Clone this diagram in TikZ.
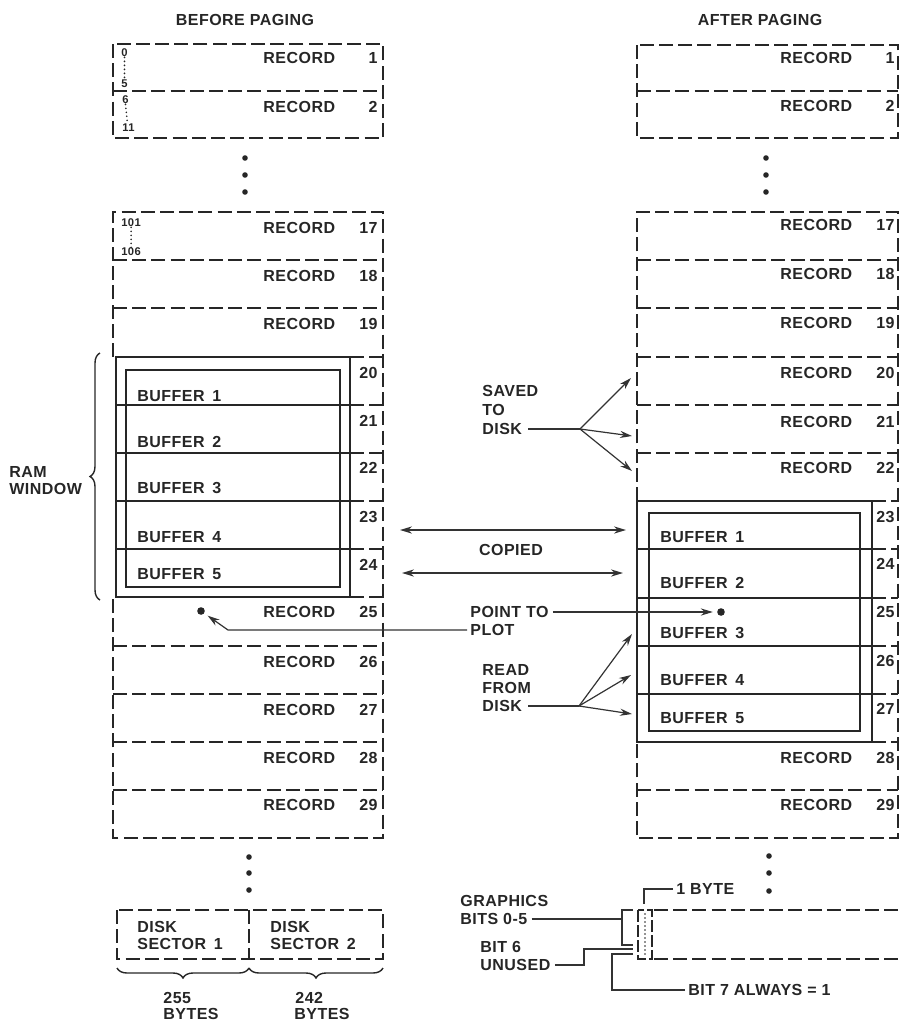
\documentclass[tikz,border=0pt]{standalone}
\usepackage{fontspec}
\setmainfont{Liberation Sans}[LetterSpace=3]
\usepackage{tikz}
\usetikzlibrary{arrows.meta, positioning, decorations.pathreplacing, calc}

\begin{document}
\begin{tikzpicture}[
    x=0.5pt, y=-0.5pt,
    rec/.style={draw=black!85, line width=0.8pt, dash pattern=on 7pt off 2.6pt},
    win/.style={draw=black!85, line width=1pt},
    txt/.style={font=\fontsize{8}{9.6}\selectfont\bfseries, inner sep=0pt, text=black!85},
    smalltxt/.style={font=\fontsize{5.6}{6}\selectfont\bfseries, inner sep=0pt, text=black!85},
    conn/.style={-{Stealth[length=6pt, width=3.6pt]}, line width=0.6pt, draw=black!80},
    twoway/.style={{Stealth[length=6pt, width=3.6pt]}-{Stealth[length=6pt, width=3.6pt]}, line width=0.7pt, draw=black!80},
    lead/.style={line width=0.6pt, draw=black!80},
    bullet/.style={circle, fill=black!85, inner sep=0pt, minimum size=2.8pt},
    dotline/.style={line width=0.9pt, dash pattern=on 0pt off 2pt, line cap=round, draw=black!85},
    bracegroup/.style={decorate, decoration={brace, amplitude=5pt}, line width=0.7pt, draw=black!85},
]
    \useasboundingbox (0,0) rectangle (900,1024);

    % BEFORE PAGING column
    \node[txt] (tl) at (245,20) {BEFORE PAGING};
    \draw[rec] (113,44) rectangle (383,138);
    \draw[rec] (113,91) -- (383,91);
    \node[txt, anchor=west] (l1) at (263,58) {RECORD};
    \node[txt, anchor=east] (l1n) at (378,58) {1};
    \node[txt, anchor=west] (l2) at (263,107) {RECORD};
    \node[txt, anchor=east] (l2n) at (378,107) {2};
    \node[smalltxt, anchor=west] (a0) at (121,53) {0};
    \node[smalltxt, anchor=west] (a5) at (121,84) {5};
    \node[smalltxt, anchor=west] (a6) at (122,100) {6};
    \node[smalltxt, anchor=west] (a11) at (122,128) {11};
    \draw[dotline] (a0.south) -- (a5.north);
    \draw[dotline] (a6.south) -- ([xshift=-0.5pt]a11.north);

    \node[bullet] (ld1) at (245,158) {};
    \node[bullet] (ld2) at (245,175) {};
    \node[bullet] (ld3) at (245,192) {};

    \draw[rec] (113,357) -- (113,212) -- (383,212) -- (383,838) -- (113,838) -- (113,597);
    \draw[rec] (113,260) -- (383,260);
    \draw[rec] (113,308) -- (383,308);
    \draw[rec] (350,357) -- (383,357);
    \draw[rec] (350,405) -- (383,405);
    \draw[rec] (350,453) -- (383,453);
    \draw[rec] (350,501) -- (383,501);
    \draw[rec] (350,549) -- (383,549);
    \draw[rec] (350,597) -- (383,597);
    \draw[rec] (113,646) -- (383,646);
    \draw[rec] (113,694) -- (383,694);
    \draw[rec] (113,742) -- (383,742);
    \draw[rec] (113,790) -- (383,790);

    \node[smalltxt, anchor=west] (a101) at (121,223) {101};
    \node[smalltxt, anchor=west] (a106) at (121,252) {106};
    \draw[dotline] (a101.south) -- (a106.north);
    \node[txt, anchor=west] (l17) at (263,228) {RECORD};
    \node[txt, anchor=east] (l17n) at (378,228) {17};
    \node[txt, anchor=west] (l18) at (263,276) {RECORD};
    \node[txt, anchor=east] (l18n) at (378,276) {18};
    \node[txt, anchor=west] (l19) at (263,324) {RECORD};
    \node[txt, anchor=east] (l19n) at (378,324) {19};
    \node[txt, anchor=east] (l20n) at (378,373) {20};
    \node[txt, anchor=east] (l21n) at (378,421) {21};
    \node[txt, anchor=east] (l22n) at (378,468) {22};
    \node[txt, anchor=east] (l23n) at (378,517) {23};
    \node[txt, anchor=east] (l24n) at (378,565) {24};
    \node[txt, anchor=west] (l25) at (263,612) {RECORD};
    \node[txt, anchor=east] (l25n) at (378,612) {25};
    \node[txt, anchor=west] (l26) at (263,662) {RECORD};
    \node[txt, anchor=east] (l26n) at (378,662) {26};
    \node[txt, anchor=west] (l27) at (263,710) {RECORD};
    \node[txt, anchor=east] (l27n) at (378,710) {27};
    \node[txt, anchor=west] (l28) at (263,758) {RECORD};
    \node[txt, anchor=east] (l28n) at (378,758) {28};
    \node[txt, anchor=west] (l29) at (263,805) {RECORD};
    \node[txt, anchor=east] (l29n) at (378,805) {29};

    % RAM window, left
    \draw[win] (116,357) rectangle (350,597);
    \draw[win] (126,370) rectangle (340,587);
    \draw[win] (116,405) -- (350,405);
    \draw[win] (116,453) -- (350,453);
    \draw[win] (116,501) -- (350,501);
    \draw[win] (116,549) -- (350,549);
    \node[txt, anchor=west] (lb1) at (137,396) {BUFFER\, 1};
    \node[txt, anchor=west] (lb2) at (137,442) {BUFFER\, 2};
    \node[txt, anchor=west] (lb3) at (137,488) {BUFFER\, 3};
    \node[txt, anchor=west] (lb4) at (137,537) {BUFFER\, 4};
    \node[txt, anchor=west] (lb5) at (137,574) {BUFFER\, 5};

    \draw[bracegroup] (100,600) -- (100,353);
    \node[txt, anchor=west] (rw1) at (9,472) {RAM};
    \node[txt, anchor=west] (rw2) at (9,489) {WINDOW};

    \node[bullet] (ld4) at (249,857) {};
    \node[bullet] (ld5) at (249,873) {};
    \node[bullet] (ld6) at (249,890) {};

    % disk sectors
    \draw[rec] (117,910) rectangle (383,959);
    \draw[rec] (249,910) -- (249,959);
    \node[txt, anchor=west] (ds1) at (137,927) {DISK};
    \node[txt, anchor=west] (ds1b) at (137,944) {SECTOR\, 1};
    \node[txt, anchor=west] (ds2) at (270,927) {DISK};
    \node[txt, anchor=west] (ds2b) at (270,944) {SECTOR\, 2};
    \draw[bracegroup] (249,968) -- (117,968);
    \draw[bracegroup] (383,968) -- (249,968);
    \node[txt, anchor=west] (by1) at (163,998) {255};
    \node[txt, anchor=west] (by1b) at (163,1014) {BYTES};
    \node[txt, anchor=west] (by2) at (295,998) {242};
    \node[txt, anchor=west] (by2b) at (294,1014) {BYTES};

    % AFTER PAGING column
    \node[txt] (tr) at (760,20) {AFTER PAGING};
    \draw[rec] (637,45) rectangle (898,138);
    \draw[rec] (637,91) -- (898,91);
    \node[txt, anchor=west] (r1) at (780,58) {RECORD};
    \node[txt, anchor=east] (r1n) at (895,58) {1};
    \node[txt, anchor=west] (r2) at (780,106) {RECORD};
    \node[txt, anchor=east] (r2n) at (895,106) {2};

    \node[bullet] (rd1) at (766,158) {};
    \node[bullet] (rd2) at (766,175) {};
    \node[bullet] (rd3) at (766,192) {};

    \draw[rec] (637,501) -- (637,212) -- (898,212) -- (898,838) -- (637,838) -- (637,742);
    \draw[rec] (637,260) -- (898,260);
    \draw[rec] (637,308) -- (898,308);
    \draw[rec] (637,357) -- (898,357);
    \draw[rec] (637,405) -- (898,405);
    \draw[rec] (637,453) -- (898,453);
    \draw[rec] (872,501) -- (898,501);
    \draw[rec] (872,549) -- (898,549);
    \draw[rec] (872,598) -- (898,598);
    \draw[rec] (872,646) -- (898,646);
    \draw[rec] (872,694) -- (898,694);
    \draw[rec] (872,742) -- (898,742);
    \draw[rec] (637,790) -- (898,790);

    \node[txt, anchor=west] (r17) at (780,225) {RECORD};
    \node[txt, anchor=east] (r17n) at (895,225) {17};
    \node[txt, anchor=west] (r18) at (780,274) {RECORD};
    \node[txt, anchor=east] (r18n) at (895,274) {18};
    \node[txt, anchor=west] (r19) at (780,323) {RECORD};
    \node[txt, anchor=east] (r19n) at (895,323) {19};
    \node[txt, anchor=west] (r20) at (780,373) {RECORD};
    \node[txt, anchor=east] (r20n) at (895,373) {20};
    \node[txt, anchor=west] (r21) at (780,422) {RECORD};
    \node[txt, anchor=east] (r21n) at (895,422) {21};
    \node[txt, anchor=west] (r22) at (780,468) {RECORD};
    \node[txt, anchor=east] (r22n) at (895,468) {22};
    \node[txt, anchor=east] (r23n) at (895,517) {23};
    \node[txt, anchor=east] (r24n) at (895,564) {24};
    \node[txt, anchor=east] (r25n) at (895,612) {25};
    \node[txt, anchor=east] (r26n) at (895,661) {26};
    \node[txt, anchor=east] (r27n) at (895,709) {27};
    \node[txt, anchor=west] (r28) at (780,758) {RECORD};
    \node[txt, anchor=east] (r28n) at (895,758) {28};
    \node[txt, anchor=west] (r29) at (780,805) {RECORD};
    \node[txt, anchor=east] (r29n) at (895,805) {29};

    % RAM window, right
    \draw[win] (637,501) rectangle (872,742);
    \draw[win] (649,513) rectangle (860,731);
    \draw[win] (637,549) -- (872,549);
    \draw[win] (637,598) -- (872,598);
    \draw[win] (637,646) -- (872,646);
    \draw[win] (637,694) -- (872,694);
    \node[txt, anchor=west] (rb1) at (660,537) {BUFFER\, 1};
    \node[txt, anchor=west] (rb2) at (660,583) {BUFFER\, 2};
    \node[txt, anchor=west] (rb3) at (660,633) {BUFFER\, 3};
    \node[txt, anchor=west] (rb4) at (660,680) {BUFFER\, 4};
    \node[txt, anchor=west] (rb5) at (660,718) {BUFFER\, 5};

    % saved to disk
    \node[txt, anchor=west] (sv1) at (482,391) {SAVED};
    \node[txt, anchor=west] (sv2) at (482,410) {TO};
    \node[txt, anchor=west] (sv3) at (482,429) {DISK};
    \coordinate (svf) at (580,429);
    \coordinate (svt1) at (631,378);
    \coordinate (svt2) at (632,436);
    \coordinate (svt3) at (632,471);
    \draw[lead] ([xshift=3pt]sv3.east) -- (svf);
    \draw[conn] (svf) -- (svt1);
    \draw[conn] (svf) -- (svt2);
    \draw[conn] (svf) -- (svt3);

    % copied
    \coordinate (cpa1) at (400,530);
    \coordinate (cpb1) at (626,530);
    \coordinate (cpa2) at (402,573);
    \coordinate (cpb2) at (623,573);
    \draw[twoway] (cpa1) -- (cpb1);
    \draw[twoway] (cpa2) -- (cpb2);
    \node[txt] (cp) at (511,550) {COPIED};

    % point to plot
    \node[bullet, minimum size=3.8pt] (pl) at (201,611) {};
    \node[bullet, minimum size=3.8pt] (pr) at (721,612) {};
    \node[txt, anchor=west] (pt1) at (470,612) {POINT TO};
    \node[txt, anchor=west] (pt2) at (470,630) {PLOT};
    \coordinate (plb) at (228,630);
    \draw[conn, shorten >=2pt] ([xshift=-1.5pt]pt2.west) -- (plb) -- (pl);
    \draw[conn, shorten >=2pt] ([xshift=2pt]pt1.east) -- (pr);

    % read from disk
    \node[txt, anchor=west] (rd1t) at (482,670) {READ};
    \node[txt, anchor=west] (rd2t) at (482,688) {FROM};
    \node[txt, anchor=west] (rd3t) at (482,706) {DISK};
    \coordinate (rdf) at (579,706);
    \coordinate (rdt1) at (632,634);
    \coordinate (rdt2) at (631,675);
    \coordinate (rdt3) at (632,714);
    \draw[lead] ([xshift=3pt]rd3t.east) -- (rdf);
    \draw[conn] (rdf) -- (rdt1);
    \draw[conn] (rdf) -- (rdt2);
    \draw[conn] (rdf) -- (rdt3);

    % one byte of the graphics record
    \node[bullet] (rd4) at (769,856) {};
    \node[bullet] (rd5) at (769,873) {};
    \node[bullet] (rd6) at (769,891) {};
    \draw[rec] (654,910) -- (898,910);
    \draw[rec] (654,959) -- (898,959);
    \draw[rec, dash pattern=on 6pt off 1.5pt] (638,910) rectangle (652,959);
    \draw[dotline] (645,914) -- (645,956);

    \node[txt, anchor=west] (bt) at (676,889) {1 BYTE};
    \coordinate (btb) at (644,904);
    \draw[lead] ([xshift=-1.5pt]bt.west) -| (btb);

    \node[txt, anchor=west] (gr1) at (460,901) {GRAPHICS};
    \node[txt, anchor=west] (gr2) at (460,919) {BITS 0-5};
    \coordinate (grb) at (622,919);
    \draw[lead, line width=0.8pt] (633,910) -- (622,910) -- (622,945) -- (633,945);
    \draw[lead] ([xshift=2pt]gr2.east) -- (grb);

    \node[txt, anchor=west] (un1) at (480,947) {BIT 6};
    \node[txt, anchor=west] (un2) at (480,965) {UNUSED};
    \coordinate (unb) at (633,949);
    \draw[lead] ([xshift=2pt]un2.east) -- (584,965) |- (unb);

    \node[txt, anchor=west] (b7) at (688,990) {BIT 7 ALWAYS = 1};
    \coordinate (b7a) at (633,954);
    \draw[lead] (b7a) -- (612,954) |- ([xshift=-1.5pt]b7.west);
\end{tikzpicture}
\end{document}
